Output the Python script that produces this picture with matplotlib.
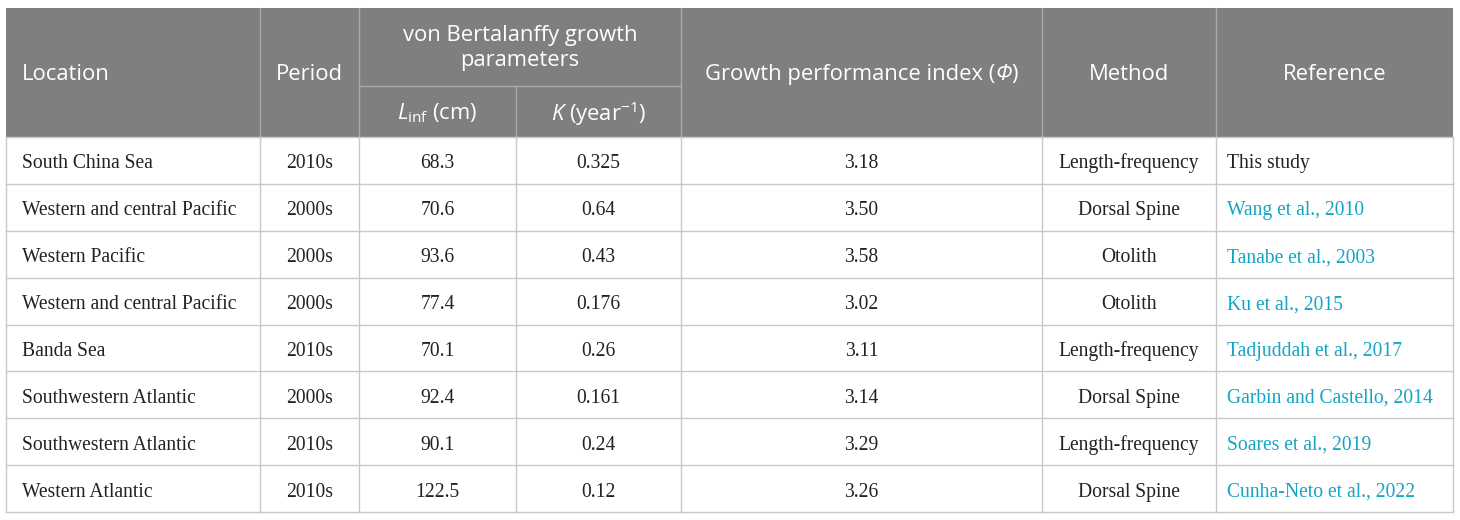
import matplotlib
matplotlib.use("Agg")
import matplotlib.pyplot as plt
from matplotlib.patches import Rectangle
from matplotlib.offsetbox import TextArea, HPacker, AnnotationBbox

plt.rcParams['mathtext.fontset'] = 'custom'
plt.rcParams['mathtext.rm'] = 'Open Sans'
plt.rcParams['mathtext.it'] = 'Open Sans:italic'

# table data
locations = ["South China Sea", "Western and central Pacific", "Western Pacific",
             "Western and central Pacific", "Banda Sea", "Southwestern Atlantic",
             "Southwestern Atlantic", "Western Atlantic"]
periods = ["2010s", "2000s", "2000s", "2000s", "2010s", "2000s", "2010s", "2010s"]
linf = ["68.3", "70.6", "93.6", "77.4", "70.1", "92.4", "90.1", "122.5"]
k_vals = ["0.325", "0.64", "0.43", "0.176", "0.26", "0.161", "0.24", "0.12"]
phi = ["3.18", "3.50", "3.58", "3.02", "3.11", "3.14", "3.29", "3.26"]
methods = ["Length-frequency", "Dorsal Spine", "Otolith", "Otolith",
           "Length-frequency", "Dorsal Spine", "Length-frequency", "Dorsal Spine"]
references = ["This study", "Wang et al., 2010", "Tanabe et al., 2003",
              "Ku et al., 2015", "Tadjuddah et al., 2017", "Garbin and Castello, 2014",
              "Soares et al., 2019", "Cunha-Neto et al., 2022"]
ref_linked = [False, True, True, True, True, True, True, True]

# layout in pixels
col_x = [6, 260, 359, 516, 681, 1042, 1216, 1453]
top, mid, head_bot, bottom = 8, 86, 137, 512
row_h = (bottom - head_bot) / len(locations)

HEAD_BG = "#7f7f7f"
HEAD_LINE = "#a9a9a9"
GRID = "#c8c8c8"
LINK = "#14a5c5"
head_font = dict(family="Open Sans", color="white", fontsize=15.8)
body_font = dict(family="Liberation Serif", color="#222222", fontsize=14.1)

fig = plt.figure(figsize=(14.6, 5.2), dpi=100)
ax = fig.add_axes([0, 0, 1, 1])
ax.set_xlim(0, 1460)
ax.set_ylim(520, 0)
ax.axis("off")

# header background
ax.add_patch(Rectangle((col_x[0], top), col_x[-1] - col_x[0], head_bot - top,
                       facecolor=HEAD_BG, edgecolor="none"))

# header dividers
for x in col_x[1:-1]:
    if x == col_x[3]:
        ax.plot([x, x], [mid, head_bot], color=HEAD_LINE, lw=1)
    else:
        ax.plot([x, x], [top, head_bot], color=HEAD_LINE, lw=1)
ax.plot([col_x[2], col_x[4]], [mid, mid], color=HEAD_LINE, lw=1)

# header text
hy = (top + head_bot) / 2 + 2
ax.text(col_x[0] + 16, hy, "Location", ha="left", va="center", **head_font)
ax.text((col_x[1] + col_x[2]) / 2, hy, "Period", ha="center", va="center", **head_font)
ax.text((col_x[2] + col_x[4]) / 2, (top + mid) / 2 + 1, "von Bertalanffy growth\nparameters",
        ha="center", va="center", linespacing=1.3, **head_font)
ax.text((col_x[2] + col_x[3]) / 2, (mid + head_bot) / 2 + 2, r"$\mathit{L}_{\mathrm{inf}}$ (cm)",
        ha="center", va="center", **head_font)
ax.text((col_x[3] + col_x[4]) / 2, (mid + head_bot) / 2 + 2, r"$\mathit{K}$ (year$^{\mathrm{-1}}$)",
        ha="center", va="center", **head_font)
phi_parts = [TextArea("Growth performance index (", textprops=head_font),
             TextArea("Φ", textprops=dict(head_font, style="italic")),
             TextArea(")", textprops=head_font)]
phi_box = HPacker(children=phi_parts, pad=0, sep=0, align="baseline")
ax.add_artist(AnnotationBbox(phi_box, ((col_x[4] + col_x[5]) / 2, hy), xycoords="data",
                             frameon=False, box_alignment=(0.5, 0.5), pad=0))
ax.text((col_x[5] + col_x[6]) / 2, hy, "Method", ha="center", va="center", **head_font)
ax.text((col_x[6] + col_x[7]) / 2, hy, "Reference", ha="center", va="center", **head_font)

# body grid
for i in range(len(locations) + 1):
    y = head_bot + i * row_h
    ax.plot([col_x[0], col_x[-1]], [y, y], color=GRID, lw=1)
for x in col_x:
    ax.plot([x, x], [head_bot, bottom], color=GRID, lw=1)

# body text, all on a common baseline per row
for i in range(len(locations)):
    y = head_bot + (i + 0.5) * row_h + 8
    ax.text(col_x[0] + 16, y, locations[i], ha="left", va="baseline", **body_font)
    ax.text((col_x[1] + col_x[2]) / 2, y, periods[i], ha="center", va="baseline", **body_font)
    ax.text((col_x[2] + col_x[3]) / 2, y, linf[i], ha="center", va="baseline", **body_font)
    ax.text((col_x[3] + col_x[4]) / 2, y, k_vals[i], ha="center", va="baseline", **body_font)
    ax.text((col_x[4] + col_x[5]) / 2, y, phi[i], ha="center", va="baseline", **body_font)
    ax.text((col_x[5] + col_x[6]) / 2, y, methods[i], ha="center", va="baseline", **body_font)
    style = dict(body_font)
    if ref_linked[i]:
        style["color"] = LINK
    ax.text(col_x[6] + 11, y, references[i], ha="left", va="baseline", **style)

fig.savefig("out.png", dpi=100)
